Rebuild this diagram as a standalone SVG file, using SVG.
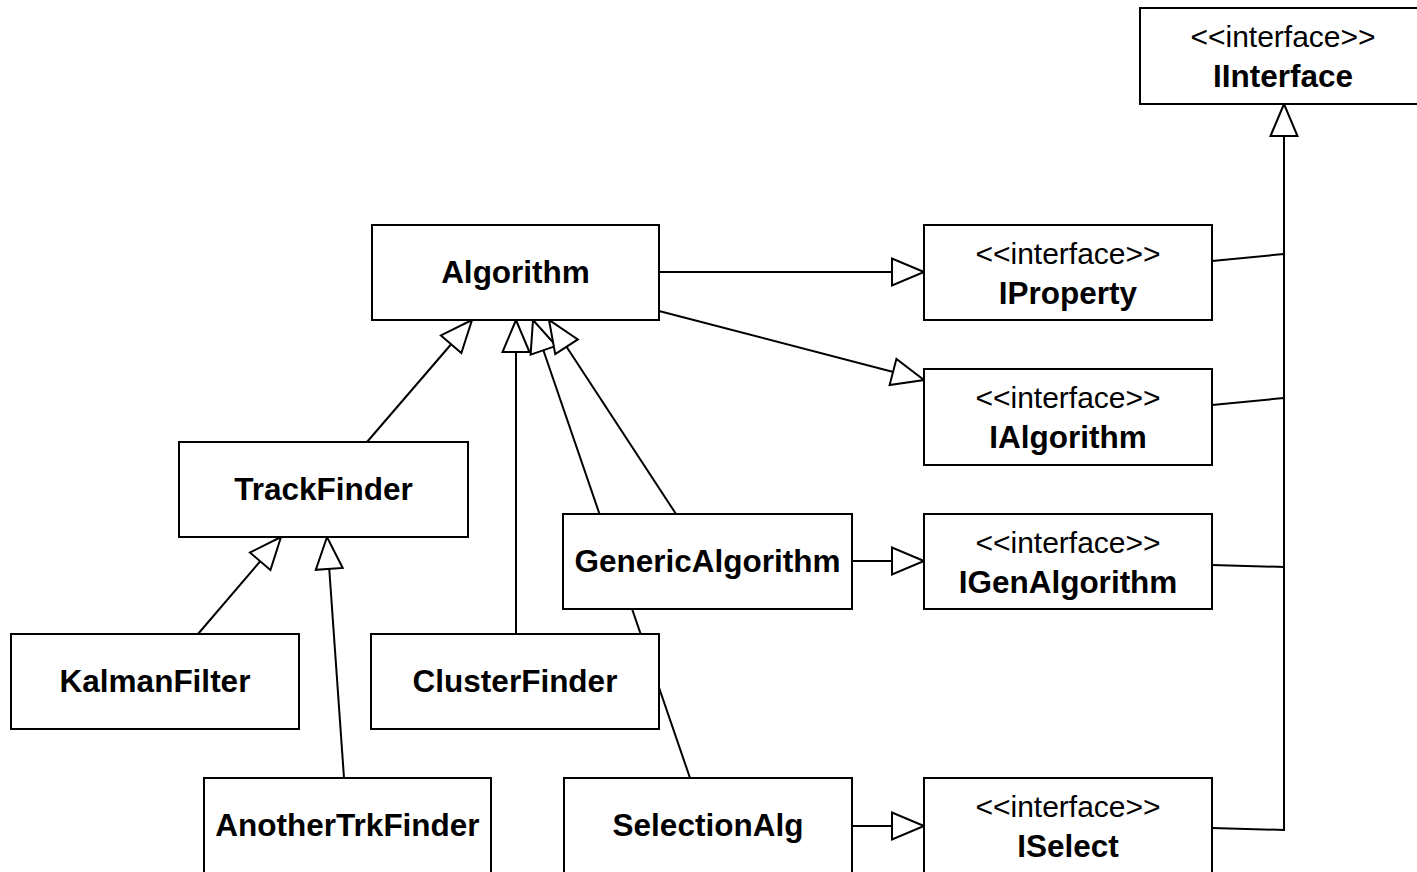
<svg xmlns="http://www.w3.org/2000/svg" width="1417" height="872" viewBox="0 0 1417 872">
<style>
.box{fill:#fff;stroke:#000;stroke-width:2}
.ln{fill:none;stroke:#000;stroke-width:2}
.gen{marker-end:url(#tri)}
.b{font-family:"Liberation Sans",Arial,sans-serif;font-weight:bold;font-size:31.5px;text-anchor:middle;fill:#000}
.s{font-family:"Liberation Sans",Arial,sans-serif;font-size:30px;text-anchor:middle;fill:#000}
</style>
<defs>
<marker id="tri" markerUnits="userSpaceOnUse" viewBox="-35 -16 37 32" markerWidth="37" markerHeight="32" refX="0" refY="0" orient="auto">
<path d="M0,0 L-32,-13.5 L-32,13.5 Z" fill="#fff" stroke="#000" stroke-width="2"/>
</marker>
</defs>
<rect width="1417" height="872" fill="#fff"/>
<g id="connectors">
<line class="ln gen" x1="659" y1="272" x2="924" y2="272"/>
<line class="ln gen" x1="659" y1="311" x2="924" y2="380"/>
<line class="ln gen" x1="367" y1="442" x2="472" y2="320"/>
<line class="ln gen" x1="516" y1="634" x2="516" y2="320"/>
<line class="ln gen" x1="690" y1="778" x2="533" y2="320"/>
<line class="ln gen" x1="676" y1="514" x2="549" y2="320"/>
<line class="ln gen" x1="198" y1="634" x2="281" y2="537"/>
<line class="ln gen" x1="344" y1="778" x2="327" y2="537"/>
<line class="ln gen" x1="852" y1="561" x2="924" y2="561"/>
<line class="ln gen" x1="852" y1="826" x2="924" y2="826"/>
<line class="ln" x1="1212" y1="261" x2="1284" y2="254"/>
<line class="ln" x1="1212" y1="405" x2="1284" y2="398"/>
<line class="ln" x1="1212" y1="565" x2="1284" y2="567"/>
<path class="ln gen" d="M1212,828 L1284,830 L1284,104"/>
</g>
<g id="IInterface"><rect class="box" x="1140" y="8" width="292" height="96"/><text class="s" x="1283" y="47">&lt;&lt;interface&gt;&gt;</text><text class="b" x="1283" y="87">IInterface</text></g>
<g id="Algorithm"><rect class="box" x="372" y="225" width="287" height="95"/><text class="b" x="515.5" y="283">Algorithm</text></g>
<g id="IProperty"><rect class="box" x="924" y="225" width="288" height="95"/><text class="s" x="1068" y="264">&lt;&lt;interface&gt;&gt;</text><text class="b" x="1068" y="304">IProperty</text></g>
<g id="IAlgorithm"><rect class="box" x="924" y="369" width="288" height="96"/><text class="s" x="1068" y="408">&lt;&lt;interface&gt;&gt;</text><text class="b" x="1068" y="448">IAlgorithm</text></g>
<g id="TrackFinder"><rect class="box" x="179" y="442" width="289" height="95"/><text class="b" x="323.5" y="500">TrackFinder</text></g>
<g id="GenericAlgorithm"><rect class="box" x="563" y="514" width="289" height="95"/><text class="b" x="707.5" y="572">GenericAlgorithm</text></g>
<g id="IGenAlgorithm"><rect class="box" x="924" y="514" width="288" height="95"/><text class="s" x="1068" y="553">&lt;&lt;interface&gt;&gt;</text><text class="b" x="1068" y="593">IGenAlgorithm</text></g>
<g id="KalmanFilter"><rect class="box" x="11" y="634" width="288" height="95"/><text class="b" x="155" y="692">KalmanFilter</text></g>
<g id="ClusterFinder"><rect class="box" x="371" y="634" width="288" height="95"/><text class="b" x="515" y="692">ClusterFinder</text></g>
<g id="AnotherTrkFinder"><rect class="box" x="204" y="778" width="287" height="100"/><text class="b" x="347.5" y="836">AnotherTrkFinder</text></g>
<g id="SelectionAlg"><rect class="box" x="564" y="778" width="288" height="100"/><text class="b" x="708" y="836">SelectionAlg</text></g>
<g id="ISelect"><rect class="box" x="924" y="778" width="288" height="100"/><text class="s" x="1068" y="817">&lt;&lt;interface&gt;&gt;</text><text class="b" x="1068" y="857">ISelect</text></g>
</svg>
